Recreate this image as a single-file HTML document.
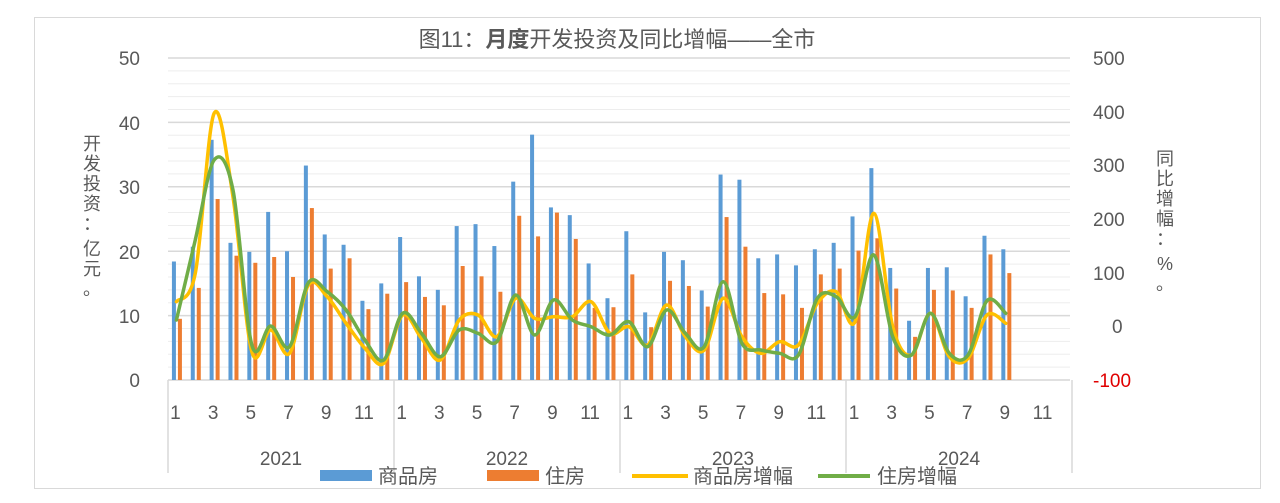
<!DOCTYPE html>
<html><head><meta charset="utf-8"><style>
html,body{margin:0;padding:0;background:#fff;}
svg text{font-family:"Liberation Sans","Noto Sans CJK SC",sans-serif;fill:#595959;}
</style></head><body>
<svg id="s" width="1280" height="498" viewBox="0 0 1280 498" xmlns="http://www.w3.org/2000/svg">
<rect x="34.5" y="17.5" width="1226" height="471" fill="#fff" stroke="#d9d9d9"/>
<g id="grid"></g>
<g id="bars"></g>
<g id="lines"></g>
<text x="617" y="47" font-size="22" text-anchor="middle">图11：<tspan font-weight="bold">月度</tspan>开发投资及同比增幅——全市</text>
<g font-size="19" text-anchor="end">
<text x="140" y="65">50</text><text x="140" y="130">40</text><text x="140" y="194">30</text>
<text x="140" y="259">20</text><text x="140" y="323">10</text><text x="140" y="387">0</text>
</g>
<g font-size="19">
<text x="1093" y="65">500</text><text x="1093" y="119">400</text><text x="1093" y="172">300</text>
<text x="1093" y="226">200</text><text x="1093" y="280">100</text><text x="1112" y="333">0</text>
<text x="1093" y="387" style="fill:#e00000">-100</text>
</g>
<g font-size="18" text-anchor="middle">
<text x="92" y="150">开</text><text x="92" y="170">发</text><text x="92" y="190">投</text><text x="92" y="210">资</text><text x="92" y="230">：</text><text x="92" y="255">亿</text><text x="92" y="275">元</text><text x="92" y="295">。</text>
<text x="1165" y="165">同</text><text x="1165" y="185">比</text><text x="1165" y="205">增</text><text x="1165" y="225">幅</text><text x="1165" y="245">：</text><text x="1165" y="270">%</text><text x="1165" y="290">。</text>
</g>
<g id="cat" font-size="19" text-anchor="middle"></g>
<g font-size="19" text-anchor="middle">
<text x="281" y="465">2021</text><text x="507" y="465">2022</text><text x="733" y="465">2023</text><text x="959" y="465">2024</text>
</g>
<rect x="320" y="470" width="52" height="11" fill="#5b9bd5"/><text x="378" y="483" font-size="20">商品房</text>
<rect x="487" y="470" width="52" height="11" fill="#ed7d31"/><text x="545" y="483" font-size="20">住房</text>
<line x1="632" y1="476" x2="688" y2="476" stroke="#ffc000" stroke-width="4"/><text x="693" y="483" font-size="20">商品房增幅</text>
<line x1="818" y1="476" x2="870" y2="476" stroke="#70ad47" stroke-width="4"/><text x="877" y="483" font-size="20">住房增幅</text>
</svg>
<script>
var NS="http://www.w3.org/2000/svg";
function el(p,t,a){var e=document.createElementNS(NS,t);for(var k in a)e.setAttribute(k,a[k]);p.appendChild(e);return e;}
var g=document.getElementById('grid');
for(var v=0;v<=50;v+=2){var y=380-v*6.44;el(g,'line',{x1:168,x2:1070,y1:y,y2:y,stroke:(v%10==0&&v>0)?'#d9d9d9':'#ededed','stroke-width':(v%10==0)?1.5:1});}
el(g,'line',{x1:168,x2:1070,y1:380,y2:380,stroke:'#d9d9d9','stroke-width':1.5});
[168,394,620,846,1072].forEach(function(x){el(g,'line',{x1:x,x2:x,y1:380,y2:473,stroke:'#d9d9d9','stroke-width':1.5});});
var W=18.85;function cx(i){return 168+W/2+W*i;}
var cat=document.getElementById('cat');
for(var i=0;i<48;i+=2){var t=el(cat,'text',{x:cx(i)-2,y:419});t.textContent=(i%12)+1;}
var blue=[18.4,20.7,37.3,21.3,19.9,26.1,20.0,33.3,22.6,21.0,12.3,15.0,22.2,16.1,14.0,23.9,24.2,20.8,30.8,38.1,26.8,25.6,18.1,12.7,23.1,10.5,19.9,18.6,13.9,31.9,31.1,18.9,19.5,17.8,20.3,21.3,25.4,32.9,17.4,9.2,17.4,17.5,13.0,22.4,20.3];
var org=[9.5,14.3,28.1,19.3,18.2,19.1,16.0,26.7,17.3,18.9,11.0,13.4,15.2,12.9,11.6,17.7,16.1,13.7,25.5,22.3,26.0,21.9,11.2,11.3,16.4,8.2,15.4,14.6,11.4,25.3,20.7,13.5,13.3,11.2,16.4,17.3,20.1,22,14.2,6.7,14.0,13.9,11.2,19.5,16.6];
var b=document.getElementById('bars');
blue.forEach(function(v,i){el(b,'rect',{x:cx(i)-5.5,y:380-v*6.44,width:4,height:v*6.44,fill:'#5b9bd5'});});
org.forEach(function(v,i){el(b,'rect',{x:cx(i)+0.5,y:380-v*6.44,width:4,height:v*6.44,fill:'#ed7d31'});});
var yel=[301.7,273.3,113.3,196.7,351.7,330,353.3,285,296.7,323.3,348.3,363.3,315,338.3,360,320,315,336.7,298.3,318.3,316.7,316.7,301.7,333.3,326.7,345,305,336.7,350,298.3,336.7,353.3,341.7,345,303.3,291.7,321.7,213.3,326.7,355,313.3,356.7,358.3,315,323.3];
var grn=[320,240,160,190,345,326,346.7,282.7,291.7,310,340,360,313.3,333.3,356.7,330,333.3,341.7,295,335,300,320,326.7,335,321.7,346.7,310,333.3,346.7,281.7,343.3,350,353.3,355,298.3,296.7,316.7,255,336.7,355,313.3,353.3,355,300.7,313.3];
function path(ys){var p=ys.map(function(y,i){return [cx(i)-1,y];});var d='M'+p[0][0]+','+p[0][1];
for(var i=0;i<p.length-1;i++){var p0=p[i-1]||p[i],p1=p[i],p2=p[i+1],p3=p[i+2]||p2;var k=1/6;
d+=' C'+(p1[0]+(p2[0]-p0[0])*k)+','+(p1[1]+(p2[1]-p0[1])*k)+' '+(p2[0]-(p3[0]-p1[0])*k)+','+(p2[1]-(p3[1]-p1[1])*k)+' '+p2[0]+','+p2[1];}return d;}
var l=document.getElementById('lines');
el(l,'path',{d:path(yel),fill:'none',stroke:'#ffc000','stroke-width':3.5,'stroke-linejoin':'round','stroke-linecap':'round'});
el(l,'path',{d:path(grn),fill:'none',stroke:'#70ad47','stroke-width':3.5,'stroke-linejoin':'round','stroke-linecap':'round'});
</script>
</body></html>
